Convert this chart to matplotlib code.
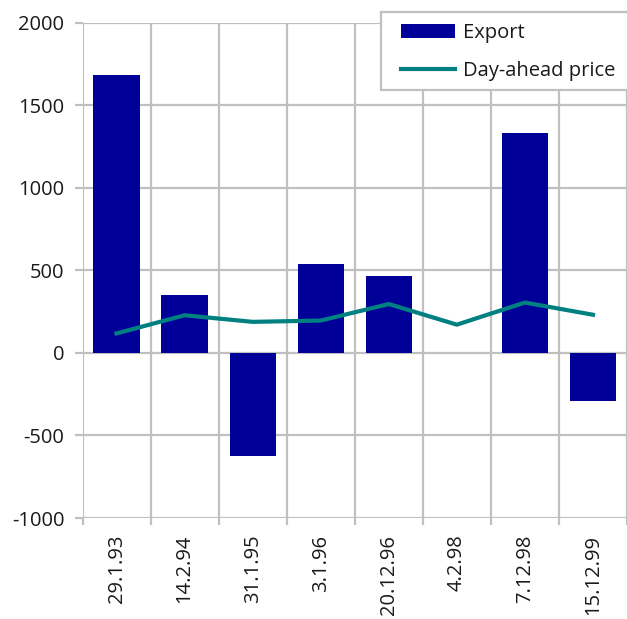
import numpy as np
import matplotlib.pyplot as plt
from matplotlib.ticker import FixedLocator
from matplotlib.patches import Rectangle

plt.rcParams['font.family'] = ['Open Sans', 'DejaVu Sans']
plt.rcParams['axes.unicode_minus'] = False

dates = ['29.1.93', '14.2.94', '31.1.95', '3.1.96', '20.12.96', '4.2.98', '7.12.98', '15.12.99']
export = [1682, 348, -623, 536, 468, 1, 1330, -292]
price = [118, 228, 188, 196, 296, 171, 305, 231]

bar_col = '#000099'
line_col = '#008080'
grid_col = '#c0c0c0'
txt_col = '#1a1a1a'
fs = 14.5

W, H = 627, 619
fig = plt.figure(figsize=(W / 100, H / 100), dpi=100)
ax = fig.add_axes([82.5 / W, 1 - 518 / H, 1 - 82.5 / W, (518 - 22.7) / H])

x = np.arange(len(dates))
bars = ax.bar(x, export, width=0.68, color=bar_col, label='Export', zorder=2)
line, = ax.plot(x, price, color=line_col, lw=3.0, label='Day-ahead price', zorder=3)

ax.set_xlim(-0.5, len(dates) - 0.5)
ax.set_ylim(-1000, 2000)
ax.set_yticks(np.arange(-1000, 2001, 500))
ax.set_xticks(x)
ax.set_xticklabels(dates, rotation=90, va='top')
ax.xaxis.set_minor_locator(FixedLocator(np.arange(-0.5, len(dates), 1.0)))

for s in ax.spines.values():
    s.set_visible(False)
ax.grid(axis='y', which='major', color=grid_col, lw=1.6, zorder=0)
ax.grid(axis='x', which='minor', color=grid_col, lw=1.6, zorder=0)
ax.set_axisbelow(True)

ax.tick_params(axis='x', which='major', length=0, pad=12, labelsize=fs, labelcolor=txt_col)
ax.tick_params(axis='x', which='minor', length=5, width=1.6, color=grid_col)
ax.tick_params(axis='y', length=6, width=1.6, color=grid_col, pad=7, labelsize=fs, labelcolor=txt_col)

# legend box drawn separately (wider padding than matplotlib's frame gives)
fig.patches.append(Rectangle((381 / W, 1 - 90 / H), 250 / W, 77.5 / H,
                             transform=fig.transFigure, facecolor='white',
                             edgecolor=grid_col, lw=1.6, zorder=5))
leg = fig.legend([bars, line], ['Export', 'Day-ahead price'],
                 loc='upper left', bbox_to_anchor=(401 / W, 1 - 23 / H),
                 fontsize=fs, frameon=False, borderaxespad=0, borderpad=0,
                 handlelength=2.7, handleheight=0.74, handletextpad=0.36,
                 labelspacing=0.9)
leg.set_zorder(6)
for t in leg.get_texts():
    t.set_color(txt_col)

fig.savefig('out.png', dpi=100)
